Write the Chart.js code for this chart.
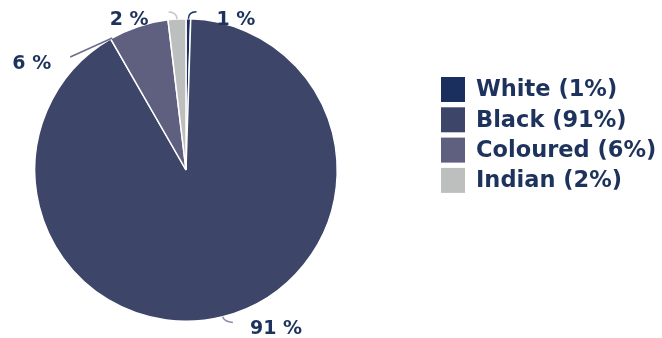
<!DOCTYPE html>
<html>
<head>
<meta charset="utf-8">
<script src="https://cdn.jsdelivr.net/npm/chart.js@4"></script>
<style>
  html, body { margin: 0; padding: 0; background: #ffffff; }
  #wrap { width: 662px; height: 338px; position: relative; }
</style>
</head>
<body>
<div id="wrap"><canvas id="c" width="662" height="338"></canvas></div>
<script>
// ---- data ----
const categories = ["White", "Black", "Coloured", "Indian"];
const shares = [0.5, 91.2, 6.4, 1.9];
const shareLabels = ["1 %", "91 %", "6 %", "2 %"];
const legendLabels = ["White (1%)", "Black (91%)", "Coloured (6%)", "Indian (2%)"];

// ---- styles ----
const sliceColors = ["#1a2f5e", "#3d4669", "#5f5f80", "#bdbfbe"];
const leaderColors = ["#1a2f5e", "#8a8fa6", "#6a6d8c", "#c4c6c5"];
const textColor = "#1d325d";
const fontFamily = "'DejaVu Sans', sans-serif";

// leader / label placement (relative to each arc's outer edge)
const labelPlacement = [
  { frac: 0.5,  len: 7, dx: 8,   dy: 0,  tdx: 20,  tdy: 8, align: "left" },
  { frac: 0.5,  len: 5, dx: 9,   dy: 1,  tdx: 17,  tdy: 6, align: "left" },
  { frac: 0.03, len: 0, dx: -42, dy: 19, tdx: -19, tdy: 7, align: "right" },
  { frac: 0.5,  len: 7, dx: -8,  dy: 0,  tdx: -20, tdy: 8, align: "right" }
];

const pieLabels = {
  id: "pieLabels",
  afterDraw(chart) {
    const ctx = chart.ctx;
    const arcs = chart.getDatasetMeta(0).data;
    ctx.save();
    arcs.forEach((arc, i) => {
      const p = labelPlacement[i];
      const a = arc.startAngle + (arc.endAngle - arc.startAngle) * p.frac;
      const r = arc.outerRadius;
      const ex = arc.x + Math.cos(a) * r;
      const ey = arc.y + Math.sin(a) * r;
      const kx = ex + Math.cos(a) * p.len;
      const ky = ey + Math.sin(a) * p.len;
      const nx = kx + p.dx;
      const ny = ky + p.dy;
      ctx.beginPath();
      ctx.moveTo(ex, ey);
      ctx.quadraticCurveTo(kx, ky, nx, ny);
      ctx.strokeStyle = leaderColors[i];
      ctx.lineWidth = 1.5;
      ctx.stroke();
      ctx.font = "bold 19px " + fontFamily;
      ctx.fillStyle = textColor;
      ctx.textAlign = p.align;
      ctx.textBaseline = "middle";
      ctx.fillText(shareLabels[i], nx + p.tdx, ny + p.tdy);
    });
    ctx.restore();
  }
};

const sideLegend = {
  id: "sideLegend",
  afterDraw(chart) {
    const ctx = chart.ctx;
    const x0 = 441, y0 = 77, box = 24, boxH = 25, step = 30.3;
    ctx.save();
    ctx.font = "bold 22.5px " + fontFamily;
    ctx.textBaseline = "middle";
    ctx.textAlign = "left";
    legendLabels.forEach((t, i) => {
      const y = y0 + i * step;
      ctx.fillStyle = sliceColors[i];
      ctx.fillRect(x0, y, box, boxH);
      ctx.fillStyle = textColor;
      ctx.fillText(t, x0 + box + 11, y + boxH / 2 + 1);
    });
    ctx.restore();
  }
};

new Chart(document.getElementById("c"), {
  type: "pie",
  data: {
    labels: categories,
    datasets: [{
      data: shares,
      backgroundColor: sliceColors,
      borderColor: "#ffffff",
      borderWidth: 1.5
    }]
  },
  options: {
    responsive: false,
    animation: false,
    layout: { padding: { left: 34, right: 324, top: 18, bottom: 16 } },
    plugins: {
      legend: { display: false },
      tooltip: { enabled: false }
    }
  },
  plugins: [pieLabels, sideLegend]
});
</script>
</body>
</html>
